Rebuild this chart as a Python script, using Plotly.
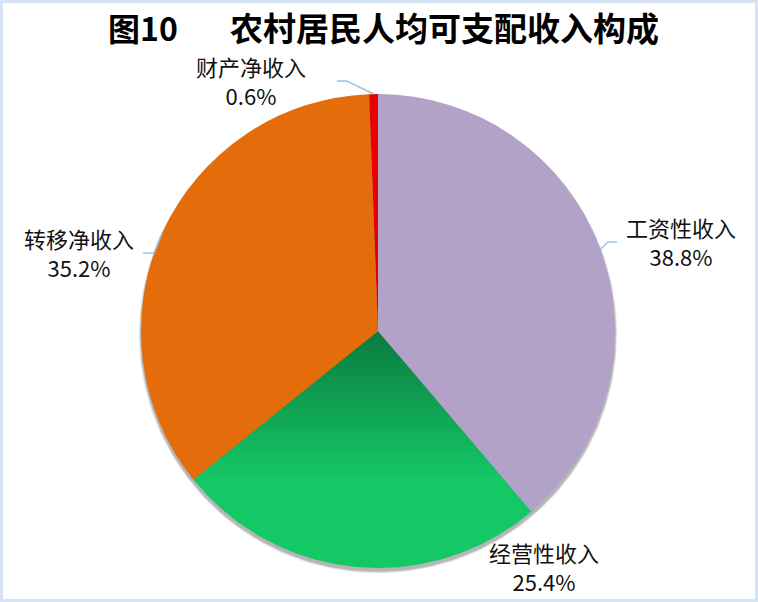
import math
import plotly.graph_objects as go

# ---- data ----
categories = ["工资性收入", "经营性收入", "转移净收入", "财产净收入"]
shares = [38.8, 25.4, 35.2, 0.6]
pct_labels = ["38.8%", "25.4%", "35.2%", "0.6%"]
title_prefix = "图10"
title_main = "农村居民人均可支配收入构成"

# ---- style / layout ----
W, H = 758, 602
CX, CY, R = 378, 331, 237  # pie centre / radius in pixels (top-down y)
colors = ["#B2A2C8", "rgba(0,0,0,0)", "#E46C0A", "#E60000"]
green_bright = "#15C866"
green_dark = "#0B7A40"
leader_color = "#9DC3E6"
font_cjk = "Noto Sans CJK SC"

# label layout in px (top-down y); line = elbow points of the leader line
label_layout = {
    "工资性收入": dict(x=681, y=241, line=[(617, 242), (608, 242)]),
    "经营性收入": dict(x=544, y=566, line=None),
    "转移净收入": dict(x=79, y=252, line=[(143, 253), (154, 253)]),
    "财产净收入": dict(x=251, y=80, line=[(337, 81), (347, 81)]),
}

fig = go.Figure()

# shadow under the pie
for k, a in [(4, 0.05), (3, 0.07), (2, 0.09), (1, 0.10)]:
    n = 240
    xs = [CX + (R + k * 0.6) * math.sin(2 * math.pi * i / n) for i in range(n + 1)]
    ys = [H - (CY + 3) + (R + k * 0.6) * math.cos(2 * math.pi * i / n) for i in range(n + 1)]
    fig.add_trace(go.Scatter(x=xs, y=ys, mode="lines", fill="toself",
                             line=dict(width=0), fillcolor=f"rgba(0,0,0,{a})",
                             hoverinfo="skip", showlegend=False))

# gradient green slice (drawn beneath the transparent pie slice)
total = sum(shares)
start = sum(shares[:1]) / total * 360
end = sum(shares[:2]) / total * 360
n = 200
gx = [CX]
gy = [H - CY]
for i in range(n + 1):
    t = math.radians(start - 1 + (end - start + 2) * i / n)
    gx.append(CX + R * math.sin(t))
    gy.append(H - CY + R * math.cos(t))
gx.append(CX)
gy.append(H - CY)
fig.add_trace(go.Scatter(
    x=gx, y=gy, mode="lines", fill="toself", line=dict(width=0),
    fillgradient=dict(type="vertical",
                      colorscale=[[0, green_bright], [0.37, green_bright], [1, green_dark]]),
    hoverinfo="skip", showlegend=False))

# pie
fig.add_trace(go.Pie(
    labels=categories, values=shares, sort=False, direction="clockwise",
    rotation=0, marker=dict(colors=colors, line=dict(width=0)),
    textinfo="none", hoverinfo="label+percent", showlegend=False,
    domain=dict(x=[(CX - R) / W, (CX + R) / W], y=[(H - CY - R) / H, (H - CY + R) / H]),
))

annotations = []
shapes = []
cum = 0
for cat, s, p in zip(categories, shares, pct_labels):
    mid = math.radians((cum + s / 2) / total * 360)
    cum += s
    lay = label_layout[cat]
    annotations.append(dict(
        x=lay["x"], y=H - lay["y"], xref="x", yref="y", text=f"{cat}<br>{p}",
        showarrow=False, font=dict(family=font_cjk, size=22, color="#111111"),
        align="center", xanchor="center", yanchor="middle"))
    if lay["line"]:
        ex = CX + R * math.sin(mid)
        ey = CY - R * math.cos(mid)
        (x0, y0), (x1, y1) = lay["line"]
        path = f"M{x0},{H - y0} L{x1},{H - y1} L{ex},{H - ey}"
        shapes.append(dict(type="path", path=path, xref="x", yref="y",
                           line=dict(color=leader_color, width=1.5), layer="above"))

annotations.append(dict(x=143, y=H - 27, xref="x", yref="y", text=f"<b>{title_prefix}</b>",
                        showarrow=False, font=dict(family=font_cjk, size=32, color="#000000"),
                        xanchor="center", yanchor="middle"))
annotations.append(dict(x=444, y=H - 27, xref="x", yref="y", text=f"<b>{title_main}</b>",
                        showarrow=False, font=dict(family=font_cjk, size=33, color="#000000"),
                        xanchor="center", yanchor="middle"))

# chart border
shapes.append(dict(type="rect", xref="paper", yref="paper", x0=0, x1=1, y0=0, y1=1,
                   line=dict(color="#D5E3F4", width=6), layer="above"))

fig.update_layout(
    width=W, height=H, margin=dict(l=0, r=0, t=0, b=0),
    paper_bgcolor="white", plot_bgcolor="white",
    xaxis=dict(range=[0, W], visible=False, domain=[0, 1], fixedrange=True),
    yaxis=dict(range=[0, H], visible=False, domain=[0, 1], fixedrange=True),
    annotations=annotations, shapes=shapes, showlegend=False,
)

fig.write_html("out.html", config=dict(displayModeBar=False),
               post_script="document.body.style.margin='0';document.body.style.overflow='hidden';")
